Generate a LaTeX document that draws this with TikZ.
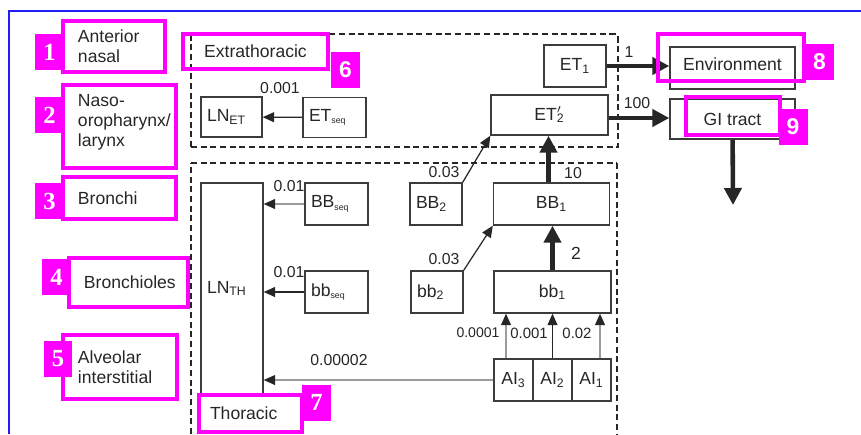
\documentclass[tikz,border=0pt]{standalone}
\usepackage{fontspec}
\setmainfont{Liberation Sans}
\newfontfamily\numserif{Liberation Serif}
\usetikzlibrary{arrows.meta,calc}
\definecolor{boxline}{HTML}{3C3C3C}
\definecolor{inktxt}{HTML}{262626}
\definecolor{flowgrey}{HTML}{9C9C9C}
\definecolor{tagmag}{HTML}{FF00FF}
\definecolor{frameblue}{HTML}{1F1FF5}

\begin{document}
\begin{tikzpicture}[x=0.02cm, y=-0.02cm,
      box/.style={draw=boxline, line width=0.8pt, text=inktxt, inner sep=0pt,
                  font=\fontsize{10}{12}\selectfont},
      cell/.style={box, minimum width=1.24cm, minimum height=0.84cm},
      leftcell/.style={box, align=left, inner xsep=0.12cm, minimum height=0.84cm},
      widecell/.style={box, minimum width=2.32cm, minimum height=0.84cm},
      flow/.style={-{Triangle[length=0.23cm,width=0.2cm]}, line width=0.7pt, draw=inktxt},
      paleflow/.style={-{Triangle[length=0.23cm,width=0.2cm,color=inktxt]},
                       line width=0.7pt, draw=flowgrey},
      bigflow/.style={-{Triangle[length=0.34cm,width=0.34cm]}, line width=2.6pt, draw=inktxt},
      rate/.style={font=\fontsize{9}{10}\selectfont, text=inktxt, inner sep=1pt},
      zone/.style={draw=inktxt, line width=0.7pt, dash pattern=on 3.5pt off 2pt},
      zonethick/.style={zone, line width=1.4pt},
      tagbox/.style={draw=tagmag, line width=2pt, text=inktxt, inner sep=0pt,
                     font=\fontsize{10}{11.5}\selectfont},
      midtext/.style={},
      toptext/.style={text depth=1.05cm},
      tagnum/.style={fill=tagmag, text=white, inner sep=0pt,
                     minimum width=0.58cm, minimum height=0.72cm,
                     font=\bfseries\fontsize{13}{13}\selectfont},
      tagnumserif/.style={tagnum, font=\numserif\bfseries\fontsize{14}{14}\selectfont}]

    \useasboundingbox (0,0) rectangle (861,434);
    \draw[frameblue, line width=1.1pt] (9,434) -- (9,11) -- (861,11);

    % compartments
    \draw[zone] (191,147) -- (191,34) -- (618,34);
    \draw[zonethick] (191,147) -- (618,147) -- (618,34);
    \draw[zone] (191,163) -- (617,163);
    \draw[zonethick] (191,434) -- (191,163);
    \draw[zonethick] (617,163) -- (617,434);

    % extrathoracic boxes
    \node[leftcell, text width=0.98cm, minimum height=0.8cm] (lnet) at (231.5,117) {LN\textsubscript{ET}};
    \node[leftcell, text width=1.02cm, minimum height=0.8cm] (etseq) at (334.5,117.5) {ET\textsubscript{\tiny seq}};
    \node[cell] (et1) at (575,66) {ET\textsubscript{1}};
    \node[widecell, minimum width=2.34cm, minimum height=0.8cm] (et2p) at (549.5,115) {ET\rlap{$'$}\textsubscript{2}};
    \node[box, minimum width=2.5cm, minimum height=0.84cm, text height=0.25cm, text depth=0.16cm] (env) at (732.5,68) {Environment};
    \node[box, minimum width=2.5cm, minimum height=0.8cm] (gi) at (732.5,119) {GI tract};
    \coordinate (giout) at (733,205);

    % thoracic boxes
    \node[leftcell, text width=1.0cm, minimum height=4.22cm] (lnth) at (232,288.5) {LN\textsubscript{TH}};
    \node[leftcell, text width=1.02cm] (BBseq) at (336.5,204) {BB\textsubscript{\tiny seq}};
    \node[leftcell, text width=1.02cm] (bbseq) at (336.5,292) {bb\textsubscript{\tiny seq}};
    \node[leftcell, text width=0.8cm] (BB2) at (436,204) {BB\textsubscript{2}};
    \node[leftcell, text width=0.8cm] (bb2) at (437,292) {bb\textsubscript{2}};
    \node[widecell] (BB1) at (551.5,204) {BB\textsubscript{1}};
    \node[widecell, minimum width=2.34cm] (bb1) at (552.5,292) {bb\textsubscript{1}};
    \node[cell, minimum width=0.78cm] (ai3) at (513.5,380) {AI\textsubscript{3}};
    \node[cell, minimum width=0.78cm] (ai2) at (552.5,380) {AI\textsubscript{2}};
    \node[cell, minimum width=0.78cm] (ai1) at (591.5,380) {AI\textsubscript{1}};

    % transfers
    \draw[flow] (etseq) -- (lnet);
    \draw[bigflow] (et1.east) -- (et1.east -| env.west);
    \draw[bigflow] ($(et2p.east)+(0,3)$) -- ($(et2p.east -| gi.west)+(0,3)$);
    \draw[bigflow] (gi) -- (giout);
    \draw[flow] (BB2.north east) -- (et2p.south west);
    \draw[flow] (bb2.north east) -- (BB1.south west);
    \draw[bigflow] ($(BB1.north)+(-3,0)$) -- ($(BB1.north |- et2p.south)+(-3,0)$);
    \draw[bigflow] (bb1.north) -- (bb1.north |- BB1.south);
    \draw[paleflow] ($(ai3.north)+(-7.5,0)$) -- ($(ai3.north |- bb1.south)+(-7.5,0)$);
    \draw[flow] (ai2.north) -- (ai2.north |- bb1.south);
    \draw[paleflow] ($(ai1.north)+(8.5,0)$) -- ($(ai1.north |- bb1.south)+(8.5,0)$);
    \draw[paleflow] (ai3.west) -- (ai3.west -| lnth.east);
    \draw[paleflow] (BBseq) -- (BBseq -| lnth.east);
    \draw[flow] (bbseq) -- (bbseq -| lnth.east);

    % rates
    \node[rate] (r1) at (280,88) {0.001};
    \node[rate] (r2) at (629,52) {1};
    \node[rate] (r3) at (637,103) {100};
    \node[rate] (r4) at (444,172) {0.03};
    \node[rate] (r5) at (444,259) {0.03};
    \node[rate] (r6) at (573,173) {10};
    \node[rate, font=\fontsize{10}{11}\selectfont] (r7) at (576,253) {2};
    \node[rate] (r8) at (289,186) {0.01};
    \node[rate] (r9) at (289,272) {0.01};
    \node[rate] (r10) at (339,360) {0.00002};
    \node[rate, font=\fontsize{8}{9}\selectfont] (r11) at (478,333) {0.0001};
    \node[rate, font=\fontsize{8.5}{9}\selectfont] (r12) at (529,333) {0.001};
    \node[rate, font=\fontsize{8.5}{9}\selectfont] (r13) at (577,333) {0.02};

    % regions, numbered
    \foreach \num/\xa/\ya/\xb/\yb/\tx/\ty/\sty/\txt in {
        1/63/21/165/72/49.5/52/midtext/{Anterior\\nasal},
        2/63/85/176/168/49.5/115/toptext/{Naso-\\oropharynx/\\larynx},
        3/63/177/176/219/49.5/201/midtext/{Bronchi},
        4/69/258/188/307/56.5/277/midtext/{Bronchioles},
        5/63/335/177/399/58/358.5/midtext/{Alveolar\\interstitial}}
    {
      \pgfmathsetmacro{\tw}{(\xb-\xa)*0.02-0.6}
      \pgfmathsetmacro{\th}{(\yb-\ya)*0.02}
      \node[tagbox, \sty, align=left, text width=\tw cm, minimum height=\th cm, inner xsep=0.3cm]
        (lab\num) at ({(\xa+\xb)/2},{(\ya+\yb)/2}) {\txt};
      \node[tagnumserif] (num\num) at (\tx,\ty) {\num};
    }

    \node[tagbox, minimum width=2.9cm, minimum height=0.7cm] (labext) at (255.5,51.5) {Extrathoracic};
    \node[tagnum] (num6) at (345.5,70) {6};
    \node[tagbox, align=left, text width=1.62cm, inner xsep=0.22cm, minimum height=0.74cm] (labthor) at (250.5,413.5) {Thoracic};
    \node[tagnumserif] (num7) at (316.5,402.5) {7};
    \node[tagbox, minimum width=2.92cm, minimum height=0.94cm] (labenv) at (731,57.5) {};
    \node[tagnum] (num8) at (819.5,62) {8};
    \node[tagbox, minimum width=1.88cm, minimum height=0.76cm] (labgi) at (733,116) {};
    \node[tagnum] (num9) at (793,127) {9};
  \end{tikzpicture}
\end{document}
